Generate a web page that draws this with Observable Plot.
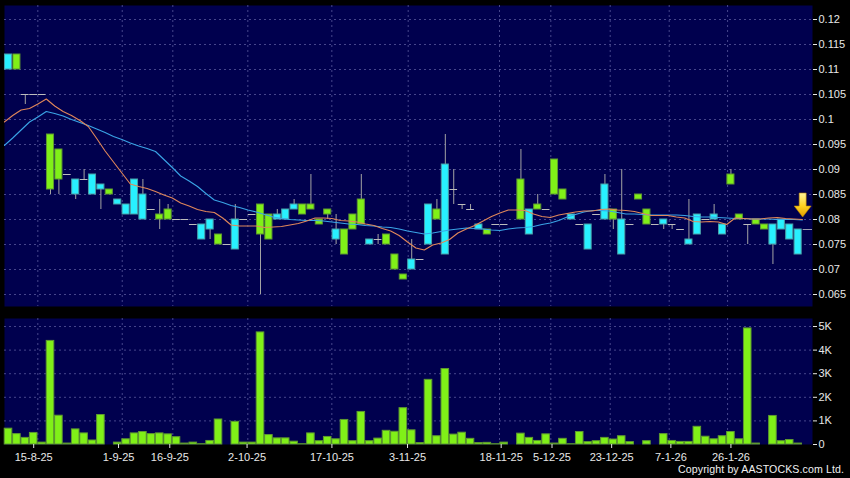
<!DOCTYPE html>
<html><head><meta charset="utf-8">
<script src="https://cdn.jsdelivr.net/npm/d3@7"></script>
<script src="https://cdn.jsdelivr.net/npm/@observablehq/plot@0.6"></script>
<style>
html,body{margin:0;padding:0;background:#000;}
#wrap{position:relative;width:850px;height:478px;background:#000;overflow:hidden;font-family:"Liberation Sans",Arial,sans-serif;}
#main{position:absolute;left:0;top:0;}
#vol{position:absolute;left:0;top:310px;}
#copy{position:absolute;right:6px;top:463px;color:#f0f0f0;font-size:10.6px;letter-spacing:0.1px;white-space:nowrap;}
</style></head><body>
<div id="wrap"><div id="main"></div><div id="vol"></div><div id="copy">Copyright by AASTOCKS.com Ltd.</div></div>
<script>
// ---- data (index = trading-day slot) ----
const open = [0.110,0.113,0.105,0.105,0.105,0.097,0.094,0.089,0.085,0.088,
 0.085,0.086,0.086,0.083,0.081,0.081,0.080,0.082,0.081,0.082,
 0.080,0.080,0.079,0.076,0.078,0.077,0.075,0.074,0.080,0.081,
 0.083,0.081,0.080,0.080,0.082,0.083,0.083,0.080,0.082,0.076,
 0.078,0.081,0.084,0.075,0.076,0.077,0.073,0.069,0.070,0.072,
 0.075,0.082,0.073,0.086,0.083,0.082,0.078,0.078,0.079,0.079,
 null,0.088,0.077,0.083,0.082,0.092,0.086,0.080,0.079,0.074,
 0.081,0.080,0.082,0.073,0.079,0.085,0.082,0.079,0.079,0.079,
 0.078,0.075,0.077,0.080,0.080,0.077,0.089,0.081,0.079,0.080,
 0.079,0.075,0.078,0.076,0.073];
const high = [0.113,0.113,0.105,0.105,0.105,0.097,0.094,0.089,0.088,0.090,
 0.089,0.087,0.086,0.084,0.083,0.088,0.088,0.082,0.084,0.083,
 0.080,0.080,0.079,0.079,0.080,0.077,0.075,0.083,0.080,0.081,
 0.083,0.081,0.082,0.082,0.084,0.083,0.089,0.080,0.082,0.081,
 0.078,0.081,0.089,0.076,0.077,0.077,0.073,0.069,0.076,0.072,
 0.083,0.084,0.097,0.090,0.083,0.083,0.079,0.078,0.079,0.079,
 null,0.094,0.082,0.085,0.082,0.092,0.086,0.081,0.079,0.079,
 0.081,0.089,0.082,0.090,0.079,0.085,0.082,0.079,0.080,0.079,
 0.078,0.084,0.081,0.080,0.083,0.079,0.090,0.081,0.079,0.080,
 0.079,0.079,0.080,0.079,0.078];
const low = [0.110,0.110,0.103,0.105,0.105,0.085,0.085,0.089,0.084,0.088,
 0.085,0.082,0.085,0.083,0.081,0.081,0.080,0.082,0.078,0.080,
 0.080,0.080,0.079,0.076,0.076,0.075,0.075,0.074,0.080,0.081,
 0.065,0.076,0.080,0.080,0.082,0.081,0.082,0.079,0.080,0.075,
 0.073,0.078,0.079,0.075,0.075,0.075,0.070,0.068,0.070,0.072,
 0.075,0.080,0.073,0.083,0.082,0.082,0.078,0.077,0.079,0.079,
 null,0.080,0.077,0.082,0.082,0.085,0.084,0.080,0.079,0.074,
 0.081,0.080,0.078,0.073,0.079,0.084,0.079,0.079,0.078,0.078,
 0.078,0.075,0.077,0.080,0.080,0.077,0.087,0.080,0.075,0.079,
 0.078,0.071,0.078,0.076,0.073];
const close = [0.113,0.110,0.105,0.105,0.105,0.086,0.088,0.089,0.088,0.088,
 0.089,0.087,0.085,0.084,0.083,0.088,0.085,0.082,0.080,0.080,
 0.080,0.080,0.079,0.079,0.080,0.075,0.075,0.080,0.080,0.081,
 0.077,0.076,0.081,0.082,0.083,0.081,0.082,0.079,0.081,0.078,
 0.073,0.078,0.079,0.076,0.076,0.075,0.070,0.068,0.072,0.072,
 0.083,0.080,0.091,0.086,0.083,0.082,0.079,0.077,0.079,0.079,
 null,0.080,0.082,0.082,0.082,0.085,0.084,0.081,0.079,0.079,
 0.081,0.087,0.080,0.080,0.079,0.084,0.079,0.079,0.080,0.079,
 0.078,0.076,0.081,0.080,0.081,0.079,0.087,0.080,0.079,0.079,
 0.078,0.079,0.080,0.079,0.078];
const volume = [670,440,280,490,80,4390,1220,40,640,470,
 170,1250,0,80,220,470,530,440,470,430,
 310,40,80,10,150,1060,0,960,80,80,
 4750,400,260,260,120,10,470,140,320,220,
 1040,140,1380,140,250,580,540,1540,600,60,
 2740,350,3200,420,500,240,60,70,10,80,
 0,460,280,150,430,40,240,10,530,100,
 140,280,210,350,100,0,140,0,440,150,
 110,110,750,330,220,350,530,220,4920,40,
 0,1210,140,190,40];
// moving averages, first value belongs to the slot before index 0
const maShort = [0.0995,0.1008,0.1019,0.1022,0.1031,0.1041,0.1027,0.1016,0.1008,0.0998,
 0.0986,0.0962,0.0937,0.0915,0.0893,0.0871,0.0866,0.0862,0.0856,0.0849,
 0.0843,0.0833,0.0827,0.0820,0.0816,0.0814,0.0803,0.0789,0.0787,0.0787,
 0.0787,0.0784,0.0785,0.0786,0.0789,0.0792,0.0797,0.0803,0.0803,0.0802,
 0.0798,0.0797,0.0795,0.0791,0.0788,0.0782,0.0777,0.0768,0.0755,0.0743,
 0.0739,0.0749,0.0753,0.0760,0.0773,0.0781,0.0788,0.0797,0.0806,0.0813,
 0.0819,0.0819,0.0818,0.0811,0.0806,0.0804,0.0809,0.0812,0.0815,0.0817,
 0.0817,0.0820,0.0821,0.0819,0.0818,0.0816,0.0812,0.0808,0.0808,0.0808,
 0.0805,0.0803,0.0796,0.0795,0.0796,0.0795,0.0790,0.0803,0.0802,0.0801,
 0.0801,0.0803,0.0804,0.0802,0.0801,0.0800];
const maLong = [0.0948,0.0963,0.0979,0.0995,0.1005,0.1016,0.1012,0.1007,0.1000,0.0994,
 0.0988,0.0981,0.0974,0.0966,0.0960,0.0953,0.0947,0.0942,0.0936,0.0920,
 0.0904,0.0887,0.0877,0.0866,0.0852,0.0839,0.0834,0.0828,0.0824,0.0819,
 0.0815,0.0810,0.0805,0.0802,0.0800,0.0799,0.0798,0.0798,0.0797,0.0795,
 0.0793,0.0791,0.0790,0.0788,0.0787,0.0785,0.0784,0.0781,0.0777,0.0774,
 0.0771,0.0773,0.0776,0.0779,0.0781,0.0783,0.0782,0.0781,0.0779,0.0778,
 0.0781,0.0783,0.0784,0.0786,0.0790,0.0793,0.0798,0.0805,0.0810,0.0815,
 0.0818,0.0818,0.0817,0.0814,0.0811,0.0811,0.0810,0.0809,0.0809,0.0809,
 0.0809,0.0808,0.0806,0.0805,0.0805,0.0804,0.0803,0.0802,0.0802,0.0801,
 0.0801,0.0801,0.0800,0.0800,0.0800,0.0799];
const dateTickIdx = [3.0,13.1,19.2,28.4,38.5,47.5,58.65,64.7,71.8,78.85,86.0];
const dateTickLabels = ["15-8-25","1-9-25","16-9-25","2-10-25","17-10-25","3-11-25","18-11-25","5-12-25","23-12-25","7-1-26","26-1-26"];
const gridIdx = [3.49,13.54,19.56,28.49,38.49,47.58,58.45,64.56,71.63,78.65,85.6];
const priceTicks = [0.065,0.07,0.075,0.08,0.085,0.09,0.095,0.1,0.105,0.11,0.115,0.12];
const priceTickLabels = ["0.065","0.07","0.075","0.08","0.085","0.09","0.095","0.1","0.105","0.11","0.115","0.12"];
const volTicks = [0,1000,2000,3000,4000,5000];
const volTickLabels = ["0","1K","2K","3K","4K","5K"];

// ---- styling ----
const NAVY = "#00004e", GRID = "#46468c", CYAN = "#28f0ff", LIME = "#80f018";
const CYAN_S = "#4aa0a8", LIME_S = "#5f9a30", WICK = "#a4a4a4", DOJI = "#bdbdbd";
const ORANGE = "#e0875a", BLUE = "#3aa4e6", TXT = "#e8e8e8";
const xDomain = [-0.476, 95.71];
const FONT = "Liberation Sans, Arial, sans-serif";

const rows = open.map((o, i) => ({i, o, h: high[i], l: low[i], c: close[i], v: volume[i]}));
const candles = rows.filter(d => d.o != null);
const bodies = candles.filter(d => d.o !== d.c);
const dojis = candles.filter(d => d.o === d.c);
const wicks = candles.filter(d => d.h > d.l);
const maS = maShort.map((v, k) => ({i: k - 1, v}));
const maL = maLong.map((v, k) => ({i: k - 1, v}));
const priceLabel = new Map(priceTicks.map((v, k) => [v, priceTickLabels[k]]));
const volLabel = new Map(volTicks.map((v, k) => [v, volTickLabels[k]]));
const dateLabel = new Map(dateTickIdx.map((v, k) => [v, dateTickLabels[k]]));
const last = candles[candles.length - 1];
const lastMA = maShort[maShort.length - 1];

function arrowMark(index, scales) {
  if (!scales || typeof scales.x !== "function") return null;
  const cx = scales.x(last.i + 0.6), ty = scales.y(lastMA) - 2;
  const ns = "http://www.w3.org/2000/svg";
  const g = document.createElementNS(ns, "g");
  g.innerHTML = `<defs><linearGradient id="arrg" x1="0" y1="0" x2="0" y2="1">
    <stop offset="0" stop-color="#fff59a"/><stop offset="0.55" stop-color="#ffd21e"/><stop offset="1" stop-color="#e09a00"/></linearGradient></defs>
    <path d="M${cx-3.5},${ty-24} L${cx+3.5},${ty-24} L${cx+3.5},${ty-11} L${cx+8.5},${ty-11} L${cx},${ty} L${cx-8.5},${ty-11} L${cx-3.5},${ty-11} Z"
      fill="url(#arrg)" stroke="#b88000" stroke-width="0.6"/>`;
  return g;
}

const main = Plot.plot({
  width: 850, height: 310,
  marginLeft: 4, marginRight: 38, marginTop: 5, marginBottom: 4,
  style: {background: "transparent", color: TXT, fontFamily: FONT, fontSize: "11px"},
  x: {domain: xDomain, axis: null},
  y: {domain: [0.0626, 0.1228], axis: null},
  marks: [
    Plot.frame({fill: NAVY, stroke: "none"}),
    Plot.ruleY(priceTicks, {stroke: GRID, strokeDasharray: "2,3"}),
    Plot.ruleX(gridIdx, {stroke: GRID, strokeDasharray: "2,3"}),
    Plot.ruleX(wicks, {x: "i", y1: "l", y2: "h", stroke: WICK}),
    Plot.rect(bodies, {x1: d => d.i - 0.42, x2: d => d.i + 0.42, y1: "o", y2: "c",
      fill: d => d.c > d.o ? CYAN : LIME, stroke: d => d.c > d.o ? CYAN_S : LIME_S, strokeWidth: 1}),
    Plot.ruleY(dojis, {y: "c", x1: d => d.i - 0.46, x2: d => d.i + 0.46, stroke: DOJI}),
    Plot.line(maL, {x: d => d.i + 0.5, y: "v", stroke: BLUE, strokeWidth: 1.1, clip: true}),
    Plot.line(maS, {x: d => d.i + 0.5, y: "v", stroke: ORANGE, strokeWidth: 1.1, clip: true}),
    Plot.ruleY([last], {y: "c", x1: d => d.i + 0.6, x2: xDomain[1], stroke: "#9a9ab0"}),
    arrowMark,
    Plot.axisY(priceTicks, {anchor: "right", tickSize: 4, tickPadding: 2, fontSize: 11,
      tickFormat: d => priceLabel.get(d), label: null, color: TXT})
  ]
});
document.getElementById("main").appendChild(main);

const vol = Plot.plot({
  width: 850, height: 168,
  marginLeft: 4, marginRight: 38, marginTop: 8, marginBottom: 34,
  style: {background: "transparent", color: TXT, fontFamily: FONT, fontSize: "11px"},
  x: {domain: xDomain, axis: null},
  y: {domain: [0, 5340], axis: null},
  marks: [
    Plot.frame({fill: NAVY, stroke: "none"}),
    Plot.ruleY(volTicks.filter(v => v > 0), {stroke: GRID, strokeDasharray: "2,3"}),
    Plot.ruleX(gridIdx, {stroke: GRID, strokeDasharray: "2,3"}),
    Plot.rect(rows.filter(d => d.v > 0), {x1: d => d.i - 0.45, x2: d => d.i + 0.45, y1: d => 0, y2: "v",
      fill: LIME, stroke: LIME_S, strokeWidth: 1}),
    Plot.axisY(volTicks, {anchor: "right", tickSize: 4, tickPadding: 2, fontSize: 11,
      tickFormat: d => volLabel.get(d), label: null, color: TXT}),
    Plot.axisX(dateTickIdx, {anchor: "bottom", tickSize: 4, tickPadding: 5, fontSize: 11,
      tickFormat: d => dateLabel.get(d), label: null, color: TXT})
  ]
});
document.getElementById("vol").appendChild(vol);
</script></body></html>
